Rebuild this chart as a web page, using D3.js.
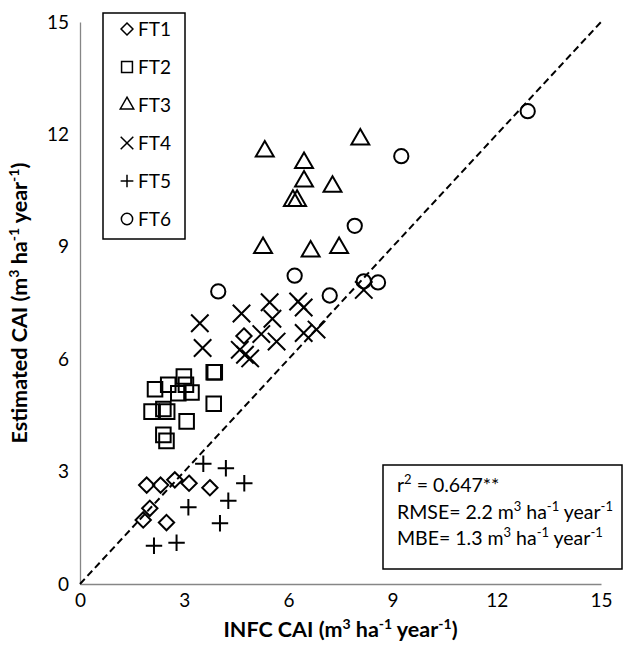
<!DOCTYPE html>
<html>
<head>
<meta charset="utf-8">
<script src="https://cdn.jsdelivr.net/npm/d3@7/dist/d3.min.js"></script>
<style>
  body { margin: 0; background: #fff; }
  svg text { font-family: Lato, "Open Sans", sans-serif; fill: #000; }
</style>
</head>
<body>
<div id="chart"></div>
<script>
// Values (INFC CAI vs estimated CAI)
const ft1X = [1.82, 1.92, 2.01, 2.32, 2.49, 2.73, 3.14, 3.74, 4.72];
const ft1Y = [1.71, 2.64, 2.02, 2.64, 1.64, 2.78, 2.69, 2.57, 6.62];
const ft2X = [2.16, 2.54, 2.99, 3.05, 2.83, 3.21, 3.85, 3.88, 2.06, 2.40, 2.51, 3.85, 3.07, 2.40, 2.49];
const ft2Y = [5.20, 5.32, 5.54, 5.32, 5.09, 5.11, 5.65, 5.65, 4.60, 4.67, 4.60, 4.81, 4.34, 3.98, 3.82];
const ft3X = [5.32, 8.07, 6.45, 6.45, 7.27, 6.13, 6.25, 5.27, 6.64, 7.46];
const ft3Y = [11.55, 11.87, 11.24, 10.75, 10.61, 10.23, 10.23, 8.97, 8.88, 8.97];
const ft4X = [3.45, 3.53, 4.65, 4.60, 4.75, 4.90, 5.22, 5.46, 5.54, 5.66, 6.28, 6.44, 6.44, 6.81, 8.17];
const ft4Y = [6.96, 6.30, 7.22, 6.25, 6.12, 6.02, 6.67, 7.52, 7.08, 6.47, 7.54, 7.38, 6.70, 6.79, 7.85];
const ft5X = [3.55, 4.20, 4.73, 4.27, 3.12, 4.03, 2.13, 2.78];
const ft5Y = [3.21, 3.09, 2.69, 2.22, 2.05, 1.62, 1.02, 1.10];
const ft6X = [3.98, 6.18, 7.19, 7.91, 8.17, 8.58, 9.25, 12.89];
const ft6Y = [7.81, 8.23, 7.70, 9.56, 8.08, 8.05, 11.42, 12.62];

const seriesNames = ['FT1', 'FT2', 'FT3', 'FT4', 'FT5', 'FT6'];
const axisTicks = [0, 3, 6, 9, 12, 15];
const statLines = [
    [['r'], ['2', 'sup'], [' = 0.647**']],
    [['RMSE= 2.2 m'], ['3', 'sup'], [' ha'], ['-1', 'sup'], [' year'], ['-1', 'sup']],
    [['MBE= 1.3 m'], ['3', 'sup'], [' ha'], ['-1', 'sup'], [' year'], ['-1', 'sup']]
];
const unitParts = [[' (m'], ['3', 'sup'], [' ha'], ['-1', 'sup'], [' year'], ['-1', 'sup'], [')']];

const W = 625, H = 645;
const margin = { top: 22, right: 24, bottom: 61, left: 80 };
const width = W - margin.left - margin.right;
const height = H - margin.top - margin.bottom;

const svg = d3.select('#chart')
    .append('svg')
    .attr('width', W)
    .attr('height', H);

const g = svg.append('g')
    .attr('transform', `translate(${margin.left},${margin.top})`);

const x = d3.scaleLinear().domain([0, 15]).range([0, width]);
const y = d3.scaleLinear().domain([0, 15]).range([height, 0]);

// axes: plain grey lines, no tick marks
const xAxis = g.append('g')
    .attr('transform', `translate(0,${height})`)
    .call(d3.axisBottom(x).tickValues(axisTicks).tickSize(0).tickPadding(10));
const yAxis = g.append('g')
    .call(d3.axisLeft(y).tickValues(axisTicks).tickSize(0).tickPadding(11));

[xAxis, yAxis].forEach(ax => {
    ax.select('.domain').attr('stroke', '#868686').attr('stroke-width', 1.3);
    ax.selectAll('text')
        .style('font-family', 'Lato, sans-serif')
        .style('font-size', '19px')
        .attr('fill', '#000');
});

// helper for text with superscripts
function richText(sel, parts, supSize) {
    parts.forEach(p => {
        const t = sel.append('tspan').text(p[0]);
        if (p[1] === 'sup') {
            t.attr('baseline-shift', 'super').style('font-size', supSize);
        }
    });
    return sel;
}

// 1:1 line
g.append('line')
    .attr('x1', x(0)).attr('y1', y(0))
    .attr('x2', x(15)).attr('y2', y(15))
    .attr('stroke', '#000')
    .attr('stroke-width', 2)
    .attr('stroke-dasharray', '7,4');

const symbolTypes = [d3.symbolDiamond2, d3.symbolSquare2, d3.symbolTriangle2, d3.symbolTimes, d3.symbolPlus, d3.symbolCircle];
const symbolSizes = [150, 270, 230, 200, 90, 160];
const seriesX = [ft1X, ft2X, ft3X, ft4X, ft5X, ft6X];
const seriesY = [ft1Y, ft2Y, ft3Y, ft4Y, ft5Y, ft6Y];

seriesNames.forEach((name, i) => {
    const pts = seriesX[i].map((v, j) => ({ x: v, y: seriesY[i][j] }));
    g.append('g')
        .attr('class', name)
        .selectAll('path')
        .data(pts)
        .join('path')
        .attr('transform', d => `translate(${x(d.x)},${y(d.y)})`)
        .attr('d', d3.symbol().type(symbolTypes[i]).size(symbolSizes[i]))
        .attr('fill', 'none')
        .attr('stroke', '#000')
        .attr('stroke-width', 2);
});

// legend
const legend = svg.append('g').attr('transform', 'translate(103,13)');
legend.append('rect')
    .attr('width', 82).attr('height', 226)
    .attr('fill', '#fff')
    .attr('stroke', '#000')
    .attr('stroke-width', 1.5);

const legendSizes = [90, 150, 130, 105, 55, 100];
seriesNames.forEach((name, i) => {
    const ly = 16 + i * 38;
    legend.append('path')
        .attr('transform', `translate(24,${ly})`)
        .attr('d', d3.symbol().type(symbolTypes[i]).size(legendSizes[i]))
        .attr('fill', 'none')
        .attr('stroke', '#000')
        .attr('stroke-width', 1.5);
    legend.append('text')
        .attr('x', 35).attr('y', ly)
        .attr('dy', '0.36em')
        .style('font-size', '19px')
        .text(name);
});

// statistics box
const stats = svg.append('g').attr('transform', 'translate(383,465)');
stats.append('rect')
    .attr('width', 239).attr('height', 104)
    .attr('fill', '#fff')
    .attr('stroke', '#000')
    .attr('stroke-width', 1.5);
const statBase = [27, 54, 80];
statLines.forEach((parts, i) => {
    const t = stats.append('text')
        .attr('x', 14).attr('y', statBase[i])
        .style('font-size', '19.5px');
    richText(t, parts, '13px');
});

// axis titles
const xt = svg.append('text')
    .attr('x', margin.left + width / 2)
    .attr('y', 637)
    .attr('text-anchor', 'middle')
    .style('font-size', '21.5px')
    .style('font-weight', 'bold');
richText(xt, [['INFC CAI']].concat(unitParts), '14px');

const yt = svg.append('text')
    .attr('transform', 'translate(27,303) rotate(-90)')
    .attr('text-anchor', 'middle')
    .style('font-size', '21.5px')
    .style('font-weight', 'bold');
richText(yt, [['Estimated CAI']].concat(unitParts), '14px');
</script>
</body>
</html>
